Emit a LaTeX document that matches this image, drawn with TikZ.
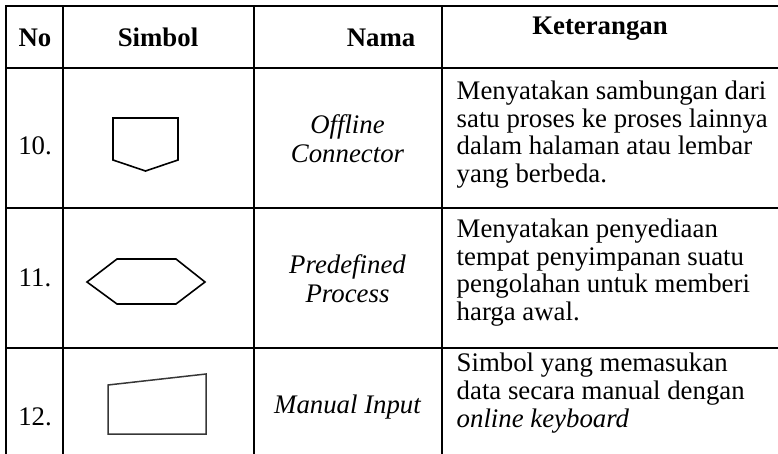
\documentclass[tikz,border=0pt]{standalone}
\usepackage{fontspec}
\setmainfont{Liberation Serif}
\definecolor{symgray}{RGB}{55,55,55}
\tikzset{
  rule/.style={line width=2pt, line cap=rect},
  sym/.style={line width=1.6pt, line join=miter},
  cell/.style={inner sep=0pt, font=\fontsize{26.8}{27.8}\selectfont},
  head/.style={cell, font=\fontsize{26.8}{27.8}\selectfont\bfseries},
  desc/.style={cell, align=left, anchor=west},
  label/.style={cell, align=center, font=\fontsize{26.8}{29}\selectfont\itshape}
}
\begin{document}
\begin{tikzpicture}[x=1pt, y=-1pt]
\useasboundingbox (0,0) rectangle (778,454);

% table rules: horizontal
\draw[rule] (6,6) -- (778,6);
\draw[rule] (6,68) -- (778,68);
\draw[rule] (6,208) -- (778,208);
\draw[rule] (6,348) -- (778,348);
% table rules: vertical
\draw[rule] (6,6) -- (6,454);
\draw[rule] (63,6) -- (63,454);
\draw[rule] (253.5,6) -- (253.5,454);
\draw[rule] (442,6) -- (442,454);

% header
\node[head, anchor=base] (hno) at (35,47) {No};
\node[head, anchor=base] (hsym) at (158,47) {Simbol};
\node[head, anchor=base] (hname) at (381,47) {Nama};
\node[head, anchor=base] (hdesc) at (600,35) {Keterangan};

% row numbers
\node[cell, anchor=base] (n10) at (35,155) {10.};
\node[cell, anchor=base] (n11) at (35,286) {11.};
\node[cell, anchor=base] (n12) at (35,425) {12.};

% symbols
\draw[sym] (113,118) -- (178,118) -- (178,160) -- (145.5,171) -- (113,160) -- cycle;
\draw[sym] (87,282) -- (117,259) -- (176,259) -- (205,282) -- (176,304) -- (117,304) -- cycle;
\draw[sym, symgray, line width=1.5pt] (108,385) -- (206,374) -- (206,434) -- (108,434) -- cycle;

% names
\node[label] (m10) at (347.5,138.5) {Offline\\Connector};
\node[label] (m11) at (347.5,279) {Predefined\\Process};
\node[cell, anchor=base, font=\fontsize{26.8}{27.8}\selectfont\itshape] (m12) at (347.5,413) {Manual Input};

% descriptions
\node[desc] (d10) at (456.5,134.5) {Menyatakan sambungan dari\\satu proses ke proses lainnya\\dalam halaman atau lembar\\yang berbeda.};
\node[desc] (d11) at (456.5,272.5) {Menyatakan penyediaan\\tempat penyimpanan suatu\\pengolahan untuk memberi\\harga awal.};
\node[desc] (d12) at (456.5,393.3) {Simbol yang memasukan\\data secara manual dengan\\\textit{online keyboard}};
\end{tikzpicture}
\end{document}
